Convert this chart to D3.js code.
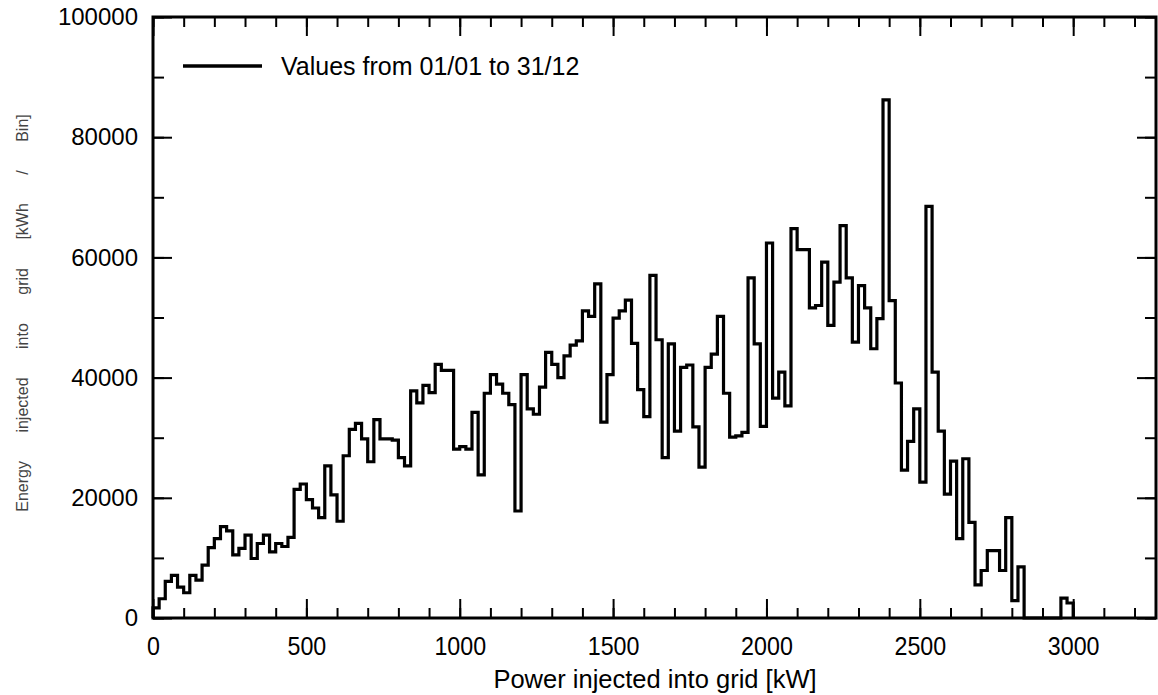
<!DOCTYPE html>
<html>
<head>
<meta charset="utf-8">
<script src="https://cdn.jsdelivr.net/npm/d3@7"></script>
<style>
  body { margin: 0; background: #fff; }
  svg { display: block; font-family: "Liberation Sans", Arial, sans-serif; }
</style>
</head>
<body>
<svg id="chart" width="1158" height="695"></svg>
<script>
// histogram bins: 20 kW wide, starting at 0 kW
const binWidth = 20;
const binStarts = d3.range(0, 3000, binWidth);
const energyPerBin = [
  1700, 3200, 6100, 7100, 5150, 4200, 7100, 6300, 8800, 11700,
  13200, 15200, 14500, 10500, 11600, 13800, 9900, 12400, 13800, 11000,
  12400, 11900, 13400, 21400, 22300, 19700, 18300, 16700, 25300, 20500,
  16100, 27000, 31400, 32400, 29800, 26000, 33000, 29800, 29800, 29600,
  26700, 25300, 37800, 35800, 38700, 37500, 42200, 41200, 41200, 28100,
  28500, 28100, 34200, 23800, 37400, 40500, 38900, 37400, 35500, 17800,
  40500, 34800, 33900, 38400, 44200, 42200, 40000, 43600, 45400, 46100,
  51100, 50200, 55600, 32600, 40500, 49900, 51100, 52900, 45700, 38000,
  33500, 57000, 46300, 26700, 45600, 31100, 41700, 42100, 31800, 25100,
  41700, 43900, 50200, 37400, 30100, 30300, 30900, 56600, 45600, 31900,
  62400, 36600, 40900, 35300, 64800, 61300, 61300, 51600, 52000, 59200,
  48700, 55900, 65300, 56600, 45900, 55300, 51600, 44800, 49800, 86200,
  52800, 39100, 24600, 29400, 34800, 22600, 68500, 40900, 31100, 20600,
  26100, 13200, 26500, 15900, 5500, 7900, 11200, 11200, 7900, 16700,
  2900, 8500, 0, 0, 0, 0, 0, 0, 3300, 2500
];

const xTicks = [0, 500, 1000, 1500, 2000, 2500, 3000];
const yTicks = [0, 20000, 40000, 60000, 80000, 100000];
const legendLabel = "Values from 01/01 to 31/12";
const xTitle = "Power injected into grid [kW]";
const yTitle = "Energy injected into grid [kWh / Bin]";

const svg = d3.select("#chart");
const plotL = 153, plotR = 1156, plotT = 17, plotB = 618;

const x = d3.scaleLinear().domain([0, 3270]).range([plotL, plotR]);
const y = d3.scaleLinear().domain([0, 100000]).range([plotB, plotT]);

// minor ticks (inside the frame, all four sides)
const xMinor = d3.range(0, 3270, 100);
const yMinor = d3.range(0, 100001, 10000);

function tickAxis(axis, transform, values, size) {
  const g = svg.append("g")
    .attr("transform", transform)
    .call(axis.tickValues(values).tickSize(size).tickFormat(""));
  g.select(".domain").remove();
  g.selectAll(".tick line").attr("stroke", "#000").attr("stroke-width", 2);
  return g;
}

tickAxis(d3.axisBottom(x), `translate(0,${plotB})`, xMinor, -10);
tickAxis(d3.axisTop(x), `translate(0,${plotT})`, xMinor, -10);
tickAxis(d3.axisLeft(y), `translate(${plotL},0)`, yMinor, -11);
tickAxis(d3.axisRight(y), `translate(${plotR},0)`, yMinor, -11);
tickAxis(d3.axisBottom(x), `translate(0,${plotB})`, xTicks, -19);
tickAxis(d3.axisTop(x), `translate(0,${plotT})`, xTicks, -19);
tickAxis(d3.axisLeft(y), `translate(${plotL},0)`, yTicks, -19);
tickAxis(d3.axisRight(y), `translate(${plotR},0)`, yTicks, -19);

// tick labels
const xLab = svg.append("g")
  .attr("transform", `translate(0,${plotB})`)
  .call(d3.axisBottom(x).tickValues(xTicks).tickSize(0).tickPadding(19).tickFormat(d3.format("d")));
xLab.select(".domain").remove();
xLab.selectAll("text")
  .attr("font-size", 25)
  .attr("fill", "#000")
  .attr("font-family", "Liberation Sans, Arial, sans-serif")
  .attr("transform", "scale(0.93,1)");

const yLab = svg.append("g")
  .attr("transform", `translate(${plotL},0)`)
  .call(d3.axisLeft(y).tickValues(yTicks).tickSize(0).tickPadding(15).tickFormat(d3.format("d")));
yLab.select(".domain").remove();
yLab.selectAll("text")
  .attr("font-size", 24)
  .attr("fill", "#000")
  .attr("font-family", "Liberation Sans, Arial, sans-serif");

// frame
svg.append("rect")
  .attr("x", plotL).attr("y", plotT)
  .attr("width", plotR - plotL).attr("height", plotB - plotT)
  .attr("fill", "none").attr("stroke", "#000").attr("stroke-width", 3);

// step outline of the histogram
const pts = [[0, 0]].concat(binStarts.map((b, i) => [b, energyPerBin[i]]), [[3000, 0]]);
const line = d3.line()
  .x((d) => x(d[0]))
  .y((d) => y(d[1]))
  .curve(d3.curveStepAfter);

svg.append("path")
  .attr("d", line(pts))
  .attr("fill", "none")
  .attr("stroke", "#000")
  .attr("stroke-width", 3.2)
  .attr("stroke-linejoin", "miter");

// legend
svg.append("line")
  .attr("x1", 183).attr("x2", 262)
  .attr("y1", 66).attr("y2", 66)
  .attr("stroke", "#000").attr("stroke-width", 3.5);
svg.append("text")
  .attr("x", 281).attr("y", 75)
  .attr("font-size", 25)
  .text(legendLabel);

// axis titles
svg.append("text")
  .attr("x", 655).attr("y", 688)
  .attr("text-anchor", "middle")
  .attr("font-size", 25.5)
  .text(xTitle);

svg.append("text")
  .attr("transform", "translate(28,313) rotate(-90)")
  .attr("text-anchor", "middle")
  .attr("font-size", 16)
  .attr("fill", "#444")
  .attr("word-spacing", 24)
  .text(yTitle);
</script>
</body>
</html>
